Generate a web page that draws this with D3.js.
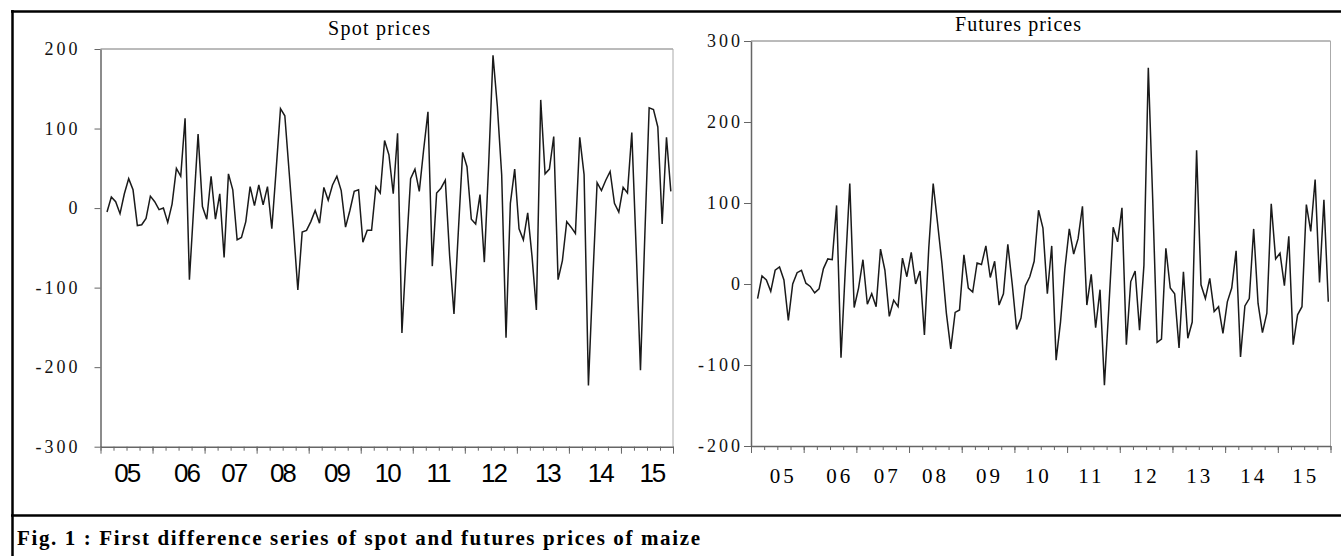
<!DOCTYPE html>
<html>
<head>
<meta charset="utf-8">
<script src="https://cdn.jsdelivr.net/npm/d3@7"></script>
<style>
  body { margin: 0; background: #fff; }
</style>
</head>
<body>
<svg id="chart" width="1341" height="556"></svg>
<script>
// first differences, monthly 2005-2015 (first month has no difference)
var spot = [
  -5, 14, 8, -7, 18, 37, 23, -22, -21, -13,
  15, 8, -2, 0, -18, 5, 50, 40, 113, -90,
  2, 93, 2, -14, 40, -14, 18, -62, 43, 23,
  -40, -37, -17, 27, 3, 29, 4, 27, -26, 48,
  125, 116, 45, -26, -103, -30, -28, -17, -3, -19,
  26, 10, 29, 40, 22, -24, -3, 21, 23, -43,
  -28, -28, 27, 19, 85, 67, 18, 94, -157, -55,
  37, 49, 21, 73, 121, -73, 19, 25, 35, -60,
  -133, -30, 70, 52, -14, -20, 17, -68, 55, 192,
  128, 42, -163, 6, 49, -26, -40, -6, -61, -128,
  136, 43, 49, 90, -90, -66, -17, -24, -32, 89,
  42, -223, -90, 32, 22, 35, 46, 6, -5, 26,
  19, 95, -50, -204, -35, 126, 124, 102, -20, 89,
  21
];

var futures = [
  -18, 10, 5, -9, 17, 21, 5, -45, 0, 14,
  17, 1, -3, -11, -6, 19, 31, 30, 97, -91,
  20, 124, -29, -5, 30, -25, -12, -28, 43, 17,
  -40, -20, -28, 32, 9, 39, 0, 16, -63, 45,
  124, 75, 25, -36, -80, -35, -32, 36, -5, -10,
  26, 24, 47, 8, 28, -26, -12, 49, 0, -56,
  -42, -2, 9, 28, 91, 69, -12, 47, -94, -47,
  19, 68, 37, 56, 96, -26, 12, -54, -7, -125,
  -30, 70, 52, 94, -75, 3, 16, -57, 23, 267,
  105, -72, -68, 44, -5, -12, -79, 15, -67, -47,
  165, -1, -18, 7, -34, -28, -61, -22, -5, 41,
  -90, -27, -18, 68, -24, -60, -36, 99, 31, 38,
  -2, 59, -75, -38, -28, 98, 65, 129, 2, 104,
  -22
];

var years = ["05", "06", "07", "08", "09", "10", "11", "12", "13", "14", "15"];
// where the year labels sit, in month index
var spotYearPos = [5.3, 19.1, 30.0, 41.2, 53.7, 65.4, 77.1, 89.9, 102.3, 114.5, 126.4];
var futYearPos = [6.5, 19.4, 30.2, 41.2, 53.5, 64.6, 76.7, 89.2, 101.4, 113.7, 125.5];

var spotTicks = [200, 100, 0, -100, -200, -300];
var futTicks = [300, 200, 100, 0, -100, -200];

var svg = d3.select('#chart');
svg.append('rect').attr('width', 1341).attr('height', 556).attr('fill', '#fff');

var drawPanel = function(cfg){
    var x = d3.scaleLinear().domain([-0.5, 131.5]).range([cfg.left, cfg.right]);
    var y = d3.scaleLinear().domain(cfg.yDomain).range([cfg.bottom, cfg.top]);
    var g = svg.append('g');

    // light frame on top and right
    g.append('line')
        .attr('x1', cfg.left).attr('x2', cfg.right)
        .attr('y1', cfg.top).attr('y2', cfg.top)
        .attr('stroke', '#777').attr('stroke-width', 1);
    g.append('line')
        .attr('x1', cfg.right).attr('x2', cfg.right)
        .attr('y1', cfg.top).attr('y2', cfg.bottom)
        .attr('stroke', '#aaa').attr('stroke-width', 1);

    // y axis
    var yAxis = d3.axisLeft(y)
        .tickValues(cfg.yTicks)
        .tickSize(cfg.yTickSize)
        .tickSizeOuter(0)
        .tickPadding(cfg.yPad)
        .tickFormat(function(d){ return String(d); });
    var ya = g.append('g')
        .attr('transform', 'translate(' + cfg.left + ',0)')
        .call(yAxis);
    ya.select('.domain').attr('stroke', '#666').attr('stroke-width', 1.5);
    ya.selectAll('.tick line').attr('stroke', '#666');
    ya.selectAll('.tick text')
        .attr('fill', '#111')
        .style('font-family', '"Liberation Serif", "Times New Roman", serif')
        .style('font-size', '18px')
        .style('letter-spacing', '3px');

    // x axis: quarter ticks, longer ticks at year boundaries
    var xMinor = d3.axisBottom(x)
        .tickValues(d3.range(-0.5, 132, 3))
        .tickSize(4)
        .tickSizeOuter(0)
        .tickFormat('');
    var xa = g.append('g')
        .attr('transform', 'translate(0,' + cfg.bottom + ')')
        .call(xMinor);
    xa.select('.domain').attr('stroke', '#666').attr('stroke-width', 1.5);
    xa.selectAll('.tick line').attr('stroke', '#666');

    var xMajor = d3.axisBottom(x)
        .tickValues(d3.range(-0.5, 132, 12))
        .tickSize(7)
        .tickSizeOuter(0)
        .tickFormat('');
    var xb = g.append('g')
        .attr('transform', 'translate(0,' + cfg.bottom + ')')
        .call(xMajor);
    xb.select('.domain').remove();
    xb.selectAll('.tick line').attr('stroke', '#666');

    // year labels
    g.selectAll('text.yr')
        .data(years).enter()
        .append('text')
        .attr('class', 'yr')
        .attr('x', function(d, i){ return x(cfg.yearPos[i]) + cfg.labelDx; })
        .attr('y', cfg.labelY)
        .attr('text-anchor', 'middle')
        .attr('fill', '#000')
        .style('font-family', cfg.labelFont)
        .style('font-size', cfg.labelSize)
        .style('letter-spacing', cfg.labelSpacing)
        .text(function(d){ return d; });

    // the series
    var line = d3.line()
        .x(function(d, i){ return x(i + 1); })
        .y(function(d){ return y(d); });
    g.append('path')
        .datum(cfg.values)
        .attr('d', line)
        .attr('fill', 'none')
        .attr('stroke', '#1a1a1a')
        .attr('stroke-width', 1.5)
        .attr('stroke-linejoin', 'miter');

    // title
    g.append('text')
        .attr('x', cfg.titleX)
        .attr('y', cfg.titleY)
        .attr('text-anchor', 'middle')
        .attr('textLength', cfg.titleLen)
        .attr('lengthAdjust', 'spacing')
        .attr('fill', '#000')
        .style('font-family', '"Liberation Serif", "Times New Roman", serif')
        .style('font-size', '20px')
        .text(cfg.title);
};

drawPanel({
    values: spot, title: 'Spot prices', titleX: 379, titleY: 35, titleLen: 102,
    left: 100.5, right: 673, top: 49, bottom: 446.7,
    yDomain: [-300, 200], yTicks: spotTicks, yTickSize: 6, yPad: 14,
    yearPos: spotYearPos, labelY: 482, labelDx: 1,
    labelFont: '"Liberation Sans", Arial, sans-serif', labelSize: '26px', labelSpacing: '-2px'
});

drawPanel({
    values: futures, title: 'Futures prices', titleX: 1018, titleY: 31, titleLen: 126,
    left: 751, right: 1330.5, top: 41, bottom: 446,
    yDomain: [-200, 300], yTicks: futTicks, yTickSize: 7, yPad: 1,
    yearPos: futYearPos, labelY: 482.7, labelDx: 1.5,
    labelFont: '"Liberation Serif", "Times New Roman", serif', labelSize: '21px', labelSpacing: '3px'
});

// outer box and caption
svg.append('line').attr('x1', 11).attr('x2', 1341).attr('y1', 11.5).attr('y2', 11.5)
    .attr('stroke', '#000').attr('stroke-width', 2.5);
svg.append('line').attr('x1', 12.5).attr('x2', 12.5).attr('y1', 10).attr('y2', 556)
    .attr('stroke', '#000').attr('stroke-width', 2.5);
svg.append('line').attr('x1', 11).attr('x2', 1341).attr('y1', 515.5).attr('y2', 515.5)
    .attr('stroke', '#000').attr('stroke-width', 2.5);

svg.append('text')
    .attr('x', 17)
    .attr('y', 545)
    .attr('textLength', 683)
    .attr('lengthAdjust', 'spacing')
    .attr('fill', '#000')
    .style('font-family', '"Liberation Serif", "Times New Roman", serif')
    .style('font-size', '21px')
    .style('font-weight', 'bold')
    .text('Fig. 1 : First difference series of spot and futures prices of maize');
</script>
</body>
</html>
